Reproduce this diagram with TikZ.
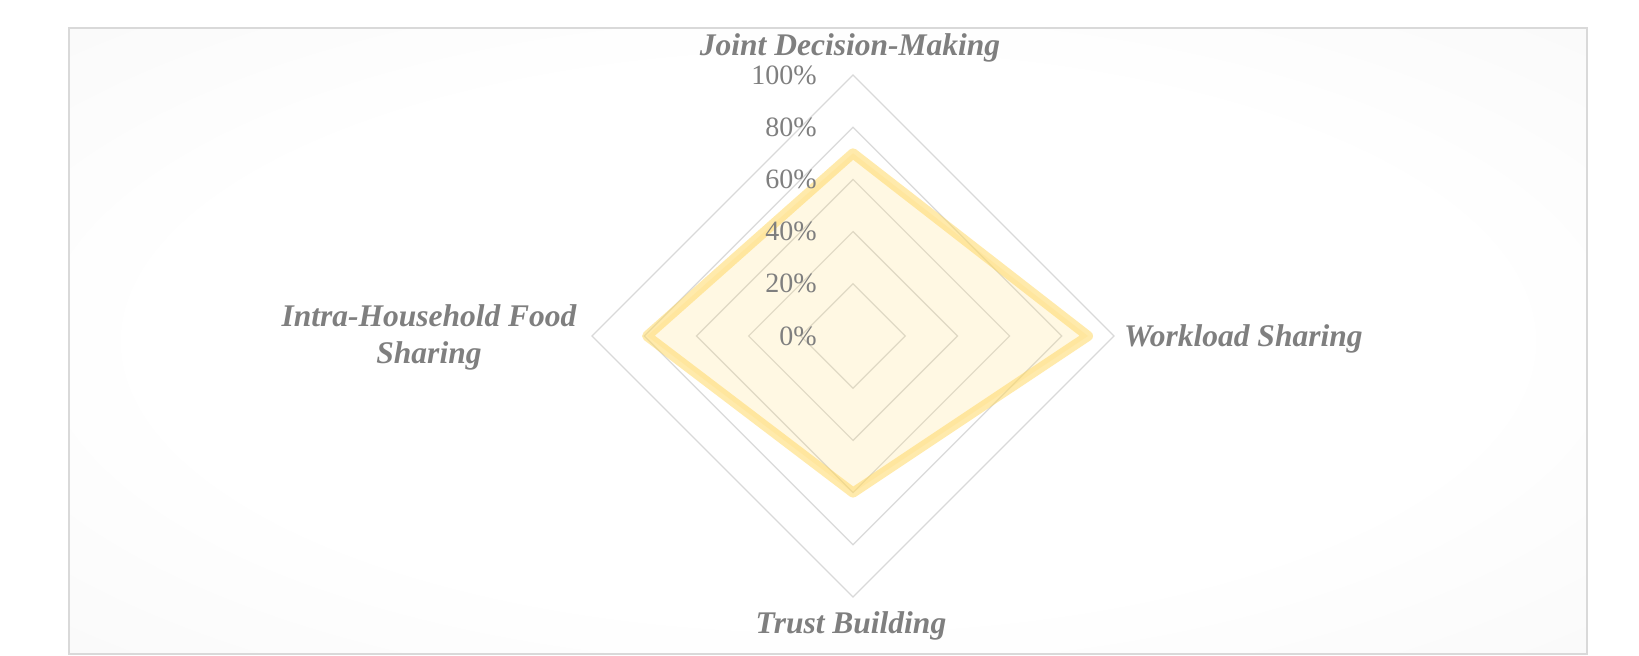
\documentclass[tikz,border=0pt]{standalone}
\usepackage{fontspec}
\setmainfont{Liberation Serif}
\definecolor{txtgray}{HTML}{7F7F7F}
\definecolor{gridgray}{HTML}{D9D9D9}
\definecolor{bggray}{HTML}{F2F2F2}
\definecolor{serieyel}{HTML}{FFD966}
\pgfdeclareradialshading{chartbg}{\pgfpoint{0bp}{0bp}}{color(0bp)=(white); color(22bp)=(white); color(56bp)=(bggray)}
\begin{document}
\begin{tikzpicture}[x=1pt,y=-1pt,
  gridline/.style={draw=gridgray, line width=1.2pt},
  ticklbl/.style={anchor=east, inner sep=0pt, text=txtgray, font=\fontsize{28}{32}\selectfont},
  axislbl/.style={inner sep=0pt, text=txtgray, font=\fontsize{31.5}{37}\selectfont\bfseries\itshape}]
\useasboundingbox (0,0) rectangle (1639,656);
% chart area
\path[shading=chartbg, draw=gridgray, line width=1.5pt] (69,28) rectangle (1587,654);
\coordinate (ctr) at (853,336);
\coordinate (jdm) at (853,75);
\coordinate (wls) at (1114,336);
\coordinate (trb) at (853,597);
\coordinate (ihf) at (592,336);
% grid
\draw[gridline] (853,283.8) -- (905.2,336) -- (853,388.2) -- (800.8,336) -- cycle;
\draw[gridline] (853,231.6) -- (957.4,336) -- (853,440.4) -- (748.6,336) -- cycle;
\draw[gridline] (853,179.4) -- (1009.6,336) -- (853,492.6) -- (696.4,336) -- cycle;
\draw[gridline] (853,127.2) -- (1061.8,336) -- (853,544.8) -- (644.2,336) -- cycle;
\draw[gridline] (jdm) -- (wls) -- (trb) -- (ihf) -- cycle;
% series
\coordinate (vjdm) at (853,153.3);
\coordinate (vwls) at (1088,336);
\coordinate (vtrb) at (853,492.6);
\coordinate (vihf) at (647,336);
\fill[serieyel, opacity=0.18] (vjdm) -- (vwls) -- (vtrb) -- (vihf) -- cycle;
\draw[serieyel, opacity=0.55, line width=10pt, line join=round] (vjdm) -- (vwls) -- (vtrb) -- (vihf) -- cycle;
% ticks
\node[ticklbl] (t0) at (817,336) {0\%};
\node[ticklbl] (t20) at (817,283.8) {20\%};
\node[ticklbl] (t40) at (817,231.6) {40\%};
\node[ticklbl] (t60) at (817,179.4) {60\%};
\node[ticklbl] (t80) at (817,127.2) {80\%};
\node[ticklbl] (t100) at (817,75) {100\%};
% axis labels
\node[axislbl, anchor=base] (ljdm) at (850,55) {Joint Decision-Making};
\node[axislbl, anchor=base west] (lwls) at (1124,346) {Workload Sharing};
\node[axislbl, anchor=base] (ltrb) at (851,633) {Trust Building};
\node[axislbl, align=center] (lihf) at (429,337) {Intra-Household Food\\Sharing};
\end{tikzpicture}
\end{document}
